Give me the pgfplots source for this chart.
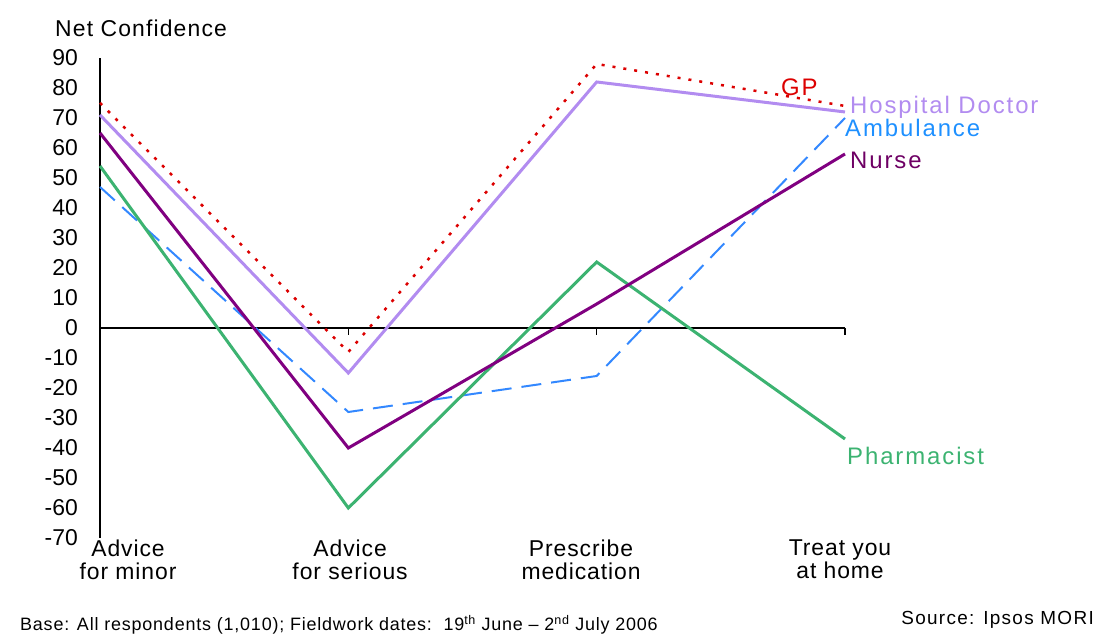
\documentclass[border=0pt]{standalone}
\usepackage{fontspec}
\setmainfont{Liberation Sans}
\usepackage{pgfplots}
\pgfplotsset{compat=1.18}
\definecolor{gpred}{RGB}{220,0,0}
\definecolor{hosp}{RGB}{178,140,240}
\definecolor{amb}{RGB}{51,136,255}
\definecolor{ambtxt}{RGB}{30,144,255}
\definecolor{nurse}{RGB}{128,0,128}
\definecolor{nursetxt}{RGB}{110,0,100}
\definecolor{pharm}{RGB}{60,179,113}
\newcommand{\lab}{\fontsize{24}{24}\selectfont\addfontfeature{LetterSpace=8}}
\newcommand{\tck}{\fontsize{23}{23}\selectfont\addfontfeature{LetterSpace=4}}
\begin{document}
\begin{tikzpicture}[x=1bp,y=1bp]
\useasboundingbox (0,0) rectangle (1101,636);
\begin{axis}[at={(100bp,98bp)}, anchor=south west, scale only axis,
  width=745bp, height=480bp,
  xmin=0, xmax=3, ymin=-70, ymax=90, clip=false,
  axis lines=left, axis line style={-},
  x axis line style={draw=none},
  y axis line style={black, line width=1.2bp},
  major tick length=0pt,
  xtick style={draw=none}, ytick style={draw=none},
  ytick={-70,-60,-50,-40,-30,-20,-10,0,10,20,30,40,50,60,70,80,90},
  yticklabels={-70,-60,-50,-40,-30,-20,-10,0,10,20,30,40,50,60,70,80,90},
  yticklabel style={font=\fontsize{23}{23}\selectfont, inner sep=0pt, anchor=east, xshift=-22bp},
  xtick={0.113,1.007,1.937,2.98},
  xticklabels={{Advice\\for minor},{Advice\\for serious},{Prescribe\\medication},{Treat you\\at home}},
  xticklabel style={align=center, font=\tck, inner sep=0pt, anchor=north, yshift=-2bp},
]
\draw[black, line width=1.2bp] (axis cs:0,0) -- (axis cs:3,0);
\draw[black, line width=1.2bp] (axis cs:1,0) -- (axis cs:1,-2.2);
\draw[black, line width=1.2bp] (axis cs:2,0) -- (axis cs:2,-2.2);
\draw[black, line width=1.2bp] (axis cs:3,0) -- (axis cs:3,-2.2);
\addplot[amb, line width=2bp, dash pattern=on 20bp off 10bp] coordinates {(0,47) (1,-28) (2,-16) (3,70)};
\addplot[pharm, line width=3bp] coordinates {(0,54) (1,-60) (2,22) (3,-37)};
\addplot[nurse, line width=3bp] coordinates {(0,65) (1,-40) (2,8) (3,58)};
\addplot[hosp, line width=3bp] coordinates {(0,71) (1,-15) (2,82) (3,72)};
\addplot[gpred, line width=2.5bp, dash pattern=on 3bp off 8bp] coordinates {(0,75) (1,-8) (2,88) (3,74)};
\node[anchor=west, text=gpred, font=\lab, inner sep=0pt] at (axis cs:2.742,80.3) {GP};
\node[anchor=west, text=hosp, font=\lab, inner sep=0pt] at (axis cs:3.02,73.7) {Hospital Doctor};
\node[anchor=west, text=ambtxt, font=\lab, inner sep=0pt] at (axis cs:3.0,66.7) {Ambulance};
\node[anchor=west, text=nursetxt, font=\lab, inner sep=0pt] at (axis cs:3.02,55.7) {Nurse};
\node[anchor=west, text=pharm, font=\lab, inner sep=0pt] at (axis cs:3.008,-42.7) {Pharmacist};
\end{axis}
\node[anchor=west, font=\fontsize{23}{23}\selectfont\addfontfeature{LetterSpace=5}, inner sep=0pt] at (55,608) {Net Confidence};
\node[anchor=west, font=\fontsize{18}{18}\selectfont\addfontfeature{LetterSpace=4.5}, inner sep=0pt] at (20,11) {Base: All respondents (1,010); Fieldwork dates:\ \ 19\textsuperscript{th} June -- 2\textsuperscript{nd} July 2006};
\node[anchor=east, font=\fontsize{19}{19}\selectfont\addfontfeature{LetterSpace=7}, inner sep=0pt] at (1094,16) {Source: Ipsos MORI};
\end{tikzpicture}
\end{document}
